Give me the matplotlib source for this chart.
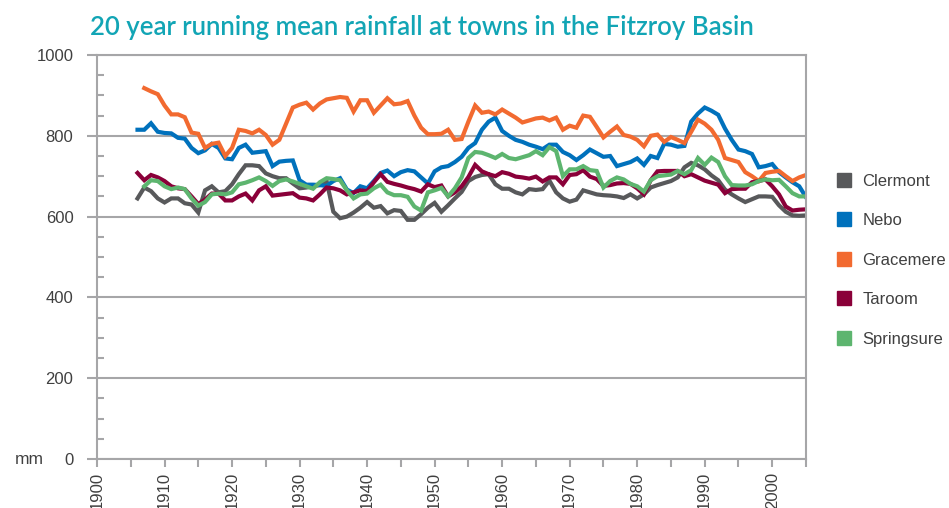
import numpy as np
import matplotlib
matplotlib.use('Agg')
import matplotlib.pyplot as plt
from matplotlib.lines import Line2D
from matplotlib.ticker import MultipleLocator

# data: 20 year running mean annual rainfall (mm)
years = np.arange(1906, 2006)
years_late = np.arange(1907, 2006)  # Gracemere and Springsure start a year later

clermont = [645, 672, 663, 645,
            635, 645, 645, 633, 630, 610, 665, 675, 660, 663,
            680, 705, 727, 727, 725, 707, 700, 695, 695, 682,
            670, 672, 675, 678, 688, 612, 596, 600, 610, 622,
            636, 622, 626, 608, 616, 614, 592, 592, 606, 622,
            634, 612, 628, 645, 661, 688, 698, 703, 705, 680,
            669, 669, 660, 655, 668, 666, 668, 689, 660, 645,
            637, 642, 665, 660, 655, 653, 652, 650, 646, 655,
            645, 655, 672, 678, 683, 688, 697, 722, 733, 727,
            717, 702, 690, 667, 655, 645, 636, 643, 650, 650,
            649, 628, 612, 603, 602, 603]

nebo = [815, 815, 831, 810,
        807, 806, 795, 793, 770, 757, 764, 780, 770, 744,
        742, 770, 778, 758, 760, 762, 725, 736, 738, 739,
        690, 679, 679, 678, 676, 688, 695, 667, 658, 675,
        670, 688, 708, 714, 700, 710, 715, 712, 697, 682,
        712, 722, 725, 735, 748, 770, 782, 815, 835, 845,
        812, 800, 790, 785, 778, 773, 767, 778, 778, 760,
        752, 740, 752, 766, 757, 748, 750, 725, 730, 735,
        744, 728, 750, 745, 780, 778, 773, 775, 835, 855,
        870, 862, 852, 818, 790, 766, 762, 755, 722, 725,
        730, 710, 697, 685, 675, 648]

gracemere = [918, 910, 903,
             875, 853, 853, 846, 808, 805, 770, 780, 783, 750,
             770, 815, 812, 806, 815, 802, 778, 790, 830, 870,
             877, 882, 865, 880, 890, 893, 896, 894, 860, 888,
             888, 857, 875, 893, 878, 880, 886, 850, 820, 804,
             804, 805, 815, 790, 792, 835, 875, 857, 860, 853,
             865, 855, 845, 833, 838, 843, 845, 838, 845, 815,
             825, 820, 850, 847, 822, 796, 810, 823, 802, 798,
             790, 774, 800, 803, 785, 797, 790, 782, 810, 840,
             830, 815, 790, 745, 740, 735, 710, 700, 688, 708,
             711, 713, 700, 688, 697, 703]

taroom = [708, 690, 703, 697,
          688, 675, 670, 668, 650, 631, 642, 657, 657, 640,
          640, 650, 657, 640, 665, 675, 652, 654, 656, 658,
          647, 645, 640, 655, 672, 670, 665, 655, 660, 665,
          663, 685, 705, 686, 681, 677, 672, 668, 662, 680,
          673, 677, 650, 660, 675, 698, 728, 712, 705, 700,
          710, 706, 699, 697, 694, 699, 687, 697, 697, 680,
          703, 705, 715, 699, 693, 676, 678, 682, 683, 681,
          670, 655, 690, 712, 713, 713, 713, 700, 705, 697,
          689, 684, 679, 658, 668, 669, 669, 685, 688, 692,
          675, 655, 625, 615, 617, 618]

springsure = [675, 690, 688,
              675, 668, 672, 668, 645, 627, 636, 655, 657, 655,
              660, 680, 684, 690, 697, 688, 676, 688, 692, 687,
              681, 675, 669, 685, 695, 693, 690, 665, 645, 655,
              657, 670, 679, 660, 653, 653, 649, 625, 615, 660,
              665, 671, 650, 670, 697, 745, 760, 758, 752, 745,
              755, 745, 742, 747, 752, 762, 752, 772, 762, 700,
              717, 717, 725, 715, 713, 672, 688, 697, 692, 681,
              675, 662, 690, 700, 702, 704, 713, 705, 715, 745,
              728, 746, 735, 700, 678, 677, 677, 680, 688, 692,
              690, 691, 675, 658, 650, 650]

names = ['Clermont', 'Nebo', 'Gracemere', 'Taroom', 'Springsure']
colours = ['#58595b', '#0071bc', '#f26a30', '#8a0039', '#5db56f']
series = [(years, clermont), (years, nebo), (years_late, gracemere),
          (years, taroom), (years_late, springsure)]

grey = '#a6a6a8'
txt = '#404040'

# setup figure
fig = plt.figure(figsize=(9.49, 5.08), dpi=100)
ax = fig.add_axes([97/949, 49/508, 709/949, 404/508])

for (x, y), c in zip(series, colours):
    ax.plot(x, y, color=c, lw=3, solid_joinstyle='miter')

# axes
ax.set_xlim(1900, 2005)
ax.set_ylim(0, 1000)
ax.yaxis.set_major_locator(MultipleLocator(200))
ax.yaxis.set_minor_locator(MultipleLocator(50))
ax.xaxis.set_major_locator(MultipleLocator(10))
ax.xaxis.set_minor_locator(MultipleLocator(5))
ax.grid(axis='y', which='major', color=grey, lw=1.5)
ax.set_axisbelow(True)
for s in ax.spines.values():
    s.set_color(grey)
    s.set_linewidth(1.5)
ax.tick_params(axis='y', which='major', direction='out', length=7, width=1.5,
               color=grey, labelcolor=txt, labelsize=12, pad=10)
ax.tick_params(axis='y', which='minor', direction='in', length=5, width=1.5,
               color=grey)
ax.tick_params(axis='x', which='both', direction='out', length=6, width=1.5,
               color=grey, labelcolor=txt, labelsize=12, pad=3)
ax.set_xticks(np.arange(1900, 2001, 10))
ax.set_xticklabels([str(y) for y in range(1900, 2001, 10)], rotation=90)
for lab in ax.get_yticklabels() + ax.get_xticklabels():
    lab.set_family('Liberation Sans')

fig.text(29/949, 1 - 459/508, 'mm', ha='center', va='center', fontsize=12.5,
         color=txt, family='Liberation Sans')

# legend
handles = [Line2D([], [], marker='s', ls='', color=c, markersize=10) for c in colours]
fig.legend(handles, names, loc='upper left', bbox_to_anchor=(829/949, 1 - 167/508),
           frameon=False, labelspacing=1.47, handlelength=1.0,
           handletextpad=0.6, borderaxespad=0,
           prop={'family': 'Liberation Sans', 'size': 12}, labelcolor=txt)

fig.text(90/949, 1 - 35/508, '20 year running mean rainfall at towns in the Fitzroy Basin',
         ha='left', va='baseline', fontsize=18.5, color='#12a5b5', family='Lato',
         weight='semibold')

fig.savefig('out.png', dpi=100)
